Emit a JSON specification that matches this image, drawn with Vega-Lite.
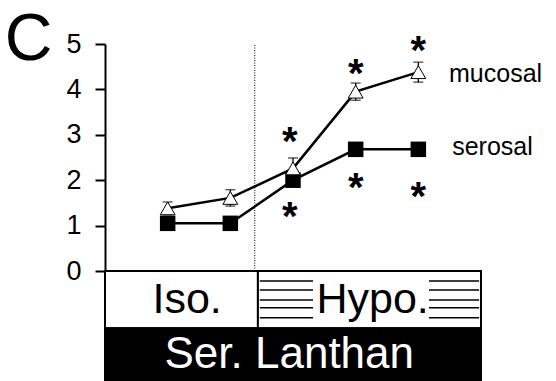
{
  "$schema": "https://vega.github.io/schema/vega-lite/v6.json",
  "width": 376,
  "height": 227,
  "autosize": {"type": "none"},
  "padding": {"left": 105, "top": 44, "right": 75, "bottom": 110},
  "background": "white",
  "config": {
    "view": {"stroke": null},
    "font": "Liberation Sans",
    "axis": {"grid": false, "domainColor": "black", "tickColor": "black", "labelColor": "black"}
  },
  "datasets": {
    "series": [
      {"step": 1, "series": "mucosal", "value": 1.38, "lo": 1.24, "hi": 1.52},
      {"step": 2, "series": "mucosal", "value": 1.61, "lo": 1.43, "hi": 1.79},
      {"step": 3, "series": "mucosal", "value": 2.26, "lo": 2.03, "hi": 2.49},
      {"step": 4, "series": "mucosal", "value": 3.95, "lo": 3.76, "hi": 4.14},
      {"step": 5, "series": "mucosal", "value": 4.38, "lo": 4.16, "hi": 4.60},
      {"step": 1, "series": "serosal", "value": 1.05},
      {"step": 2, "series": "serosal", "value": 1.05},
      {"step": 3, "series": "serosal", "value": 2.0},
      {"step": 4, "series": "serosal", "value": 2.68},
      {"step": 5, "series": "serosal", "value": 2.68}
    ],
    "stars": [
      {"step": 2.95, "y": 3.07},
      {"step": 2.95, "y": 1.42},
      {"step": 4.0, "y": 4.57},
      {"step": 4.0, "y": 2.04},
      {"step": 5.0, "y": 5.07},
      {"step": 5.0, "y": 1.86}
    ],
    "boxes": [
      {"name": "Iso.", "x0": 0, "x1": 2.44, "y0": 0, "y1": -1.26, "fill": "white"},
      {"name": "Hypo.", "x0": 2.44, "x1": 6, "y0": 0, "y1": -1.26, "fill": "white"},
      {"name": "Ser. Lanthan", "x0": 0, "x1": 6, "y0": -1.26, "y1": -2.5, "fill": "black"}
    ],
    "hatch": [
      {"x0": 2.47, "x1": 3.32, "y": -0.22}, {"x0": 2.47, "x1": 3.32, "y": -0.42},
      {"x0": 2.47, "x1": 3.32, "y": -0.64}, {"x0": 2.47, "x1": 3.32, "y": -0.81},
      {"x0": 2.47, "x1": 3.32, "y": -1.03},
      {"x0": 5.17, "x1": 5.97, "y": -0.22}, {"x0": 5.17, "x1": 5.97, "y": -0.42},
      {"x0": 5.17, "x1": 5.97, "y": -0.64}, {"x0": 5.17, "x1": 5.97, "y": -0.81},
      {"x0": 5.17, "x1": 5.97, "y": -1.03}
    ],
    "conditionText": [
      {"label": "Iso.", "x": 1.31, "y": -0.93, "color": "black"},
      {"label": "Hypo.", "x": 4.27, "y": -0.93, "color": "black"},
      {"label": "Ser. Lanthan", "x": 2.94, "y": -2.14, "color": "white"}
    ],
    "seriesLabels": [
      {"label": "mucosal", "x": 5.49, "y": 4.16},
      {"label": "serosal", "x": 5.54, "y": 2.56}
    ]
  },
  "layer": [
    {
      "data": {"name": "boxes"},
      "mark": {"type": "rect", "stroke": "black", "strokeWidth": 2, "clip": false},
      "encoding": {
        "x": {"field": "x0", "type": "quantitative", "scale": {"domain": [0, 6]},
              "axis": {"title": null, "labels": false, "ticks": false, "domainWidth": 2}},
        "x2": {"field": "x1"},
        "y": {"field": "y0", "type": "quantitative", "scale": {"domain": [0, 5]},
              "axis": {"title": null, "values": [0, 1, 2, 3, 4, 5], "tickSize": 10, "tickWidth": 2,
                       "domainWidth": 2, "labelFontSize": 27, "labelFont": "Liberation Sans",
                       "labelPadding": 14}},
        "y2": {"field": "y1"},
        "fill": {"field": "fill", "type": "nominal", "scale": null}
      }
    },
    {
      "data": {"name": "hatch"},
      "mark": {"type": "rule", "color": "black", "strokeWidth": 1.6, "clip": false},
      "encoding": {
        "x": {"field": "x0", "type": "quantitative"},
        "x2": {"field": "x1"},
        "y": {"field": "y", "type": "quantitative"}
      }
    },
    {
      "data": {"name": "conditionText"},
      "transform": [{"filter": "datum.color == 'black'"}],
      "mark": {"type": "text", "fontSize": 43, "font": "Liberation Sans", "baseline": "alphabetic", "align": "center", "clip": false},
      "encoding": {
        "x": {"field": "x", "type": "quantitative"},
        "y": {"field": "y", "type": "quantitative"},
        "text": {"field": "label"},
        "color": {"field": "color", "type": "nominal", "scale": null}
      }
    },
    {
      "data": {"name": "conditionText"},
      "transform": [{"filter": "datum.color == 'white'"}],
      "mark": {"type": "text", "fontSize": 44, "font": "Liberation Sans", "baseline": "alphabetic", "align": "center", "clip": false},
      "encoding": {
        "x": {"field": "x", "type": "quantitative"},
        "y": {"field": "y", "type": "quantitative"},
        "text": {"field": "label"},
        "color": {"field": "color", "type": "nominal", "scale": null}
      }
    },
    {
      "data": {"values": [{"x": 2.39, "y0": 0, "y1": 5}]},
      "mark": {"type": "rule", "color": "black", "strokeWidth": 1, "strokeDash": [1, 1.5]},
      "encoding": {
        "x": {"field": "x", "type": "quantitative"},
        "y": {"field": "y0", "type": "quantitative"},
        "y2": {"field": "y1"}
      }
    },
    {
      "data": {"name": "series"},
      "mark": {"type": "line", "color": "black", "strokeWidth": 2.5},
      "encoding": {
        "x": {"field": "step", "type": "quantitative"},
        "y": {"field": "value", "type": "quantitative"},
        "detail": {"field": "series"}
      }
    },
    {
      "data": {"name": "series"},
      "transform": [{"filter": "datum.series == 'mucosal'"}],
      "mark": {"type": "rule", "color": "black", "strokeWidth": 1.3},
      "encoding": {
        "x": {"field": "step", "type": "quantitative"},
        "y": {"field": "lo", "type": "quantitative"},
        "y2": {"field": "hi"}
      }
    },
    {
      "data": {"name": "series"},
      "transform": [{"filter": "datum.series == 'mucosal'"}, {"fold": ["lo", "hi"], "as": ["end", "bound"]}],
      "mark": {"type": "tick", "orient": "horizontal", "color": "black", "size": 10, "thickness": 1.3},
      "encoding": {
        "x": {"field": "step", "type": "quantitative"},
        "y": {"field": "bound", "type": "quantitative"}
      }
    },
    {
      "data": {"name": "series"},
      "transform": [{"filter": "datum.series == 'serosal'"}],
      "mark": {"type": "point", "shape": "square", "filled": true, "color": "black", "size": 240, "opacity": 1},
      "encoding": {
        "x": {"field": "step", "type": "quantitative"},
        "y": {"field": "value", "type": "quantitative"}
      }
    },
    {
      "data": {"name": "series"},
      "transform": [{"filter": "datum.series == 'mucosal'"}],
      "mark": {"type": "point", "shape": "triangle-up", "fill": "white", "stroke": "black", "strokeWidth": 1, "size": 220, "opacity": 1, "fillOpacity": 1},
      "encoding": {
        "x": {"field": "step", "type": "quantitative"},
        "y": {"field": "value", "type": "quantitative"}
      }
    },
    {
      "data": {"name": "stars"},
      "mark": {"type": "text", "text": "*", "fontSize": 40, "fontWeight": "bold", "font": "Liberation Sans", "baseline": "alphabetic", "align": "center", "dy": 23, "color": "black", "clip": false},
      "encoding": {
        "x": {"field": "step", "type": "quantitative"},
        "y": {"field": "y", "type": "quantitative"}
      }
    },
    {
      "data": {"name": "seriesLabels"},
      "mark": {"type": "text", "fontSize": 25, "font": "Liberation Sans", "baseline": "alphabetic", "align": "left", "color": "black", "clip": false},
      "encoding": {
        "x": {"field": "x", "type": "quantitative"},
        "y": {"field": "y", "type": "quantitative"},
        "text": {"field": "label"}
      }
    },
    {
      "data": {"values": [{"panel": "C", "x": -1.6, "y": 4.65}]},
      "mark": {"type": "text", "fontSize": 66, "font": "Liberation Sans", "baseline": "alphabetic", "align": "left", "color": "black", "clip": false},
      "encoding": {
        "x": {"field": "x", "type": "quantitative"},
        "y": {"field": "y", "type": "quantitative"},
        "text": {"field": "panel"}
      }
    }
  ]
}
